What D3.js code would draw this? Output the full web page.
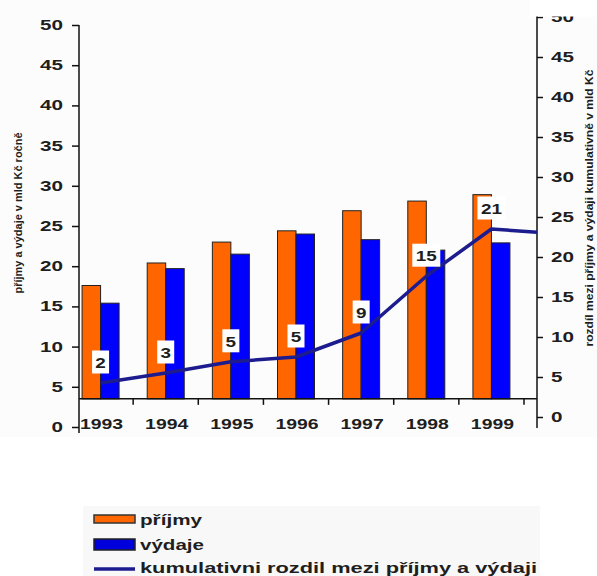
<!DOCTYPE html>
<html lang="cs">
<head>
<meta charset="utf-8">
<title>příjmy a výdaje</title>
<script src="https://d3js.org/d3.v7.min.js"></script>
<style>
  body { margin: 0; background: #fff; }
  text { font-family: "Liberation Sans", Arial, sans-serif; fill: #1e1e1e; }
</style>
</head>
<body>
<svg width="597" height="576"></svg>
<script>
    // data
    var years = ["1993", "1994", "1995", "1996", "1997", "1998", "1999"];
    var prijmy = [17.6, 20.4, 23.0, 24.4, 26.9, 28.1, 28.9];
    var vydaje = [15.4, 19.7, 21.5, 24.0, 23.3, 22.0, 22.9];
    // line drawn against the right axis
    var rozdil = [4.25, 5.5, 6.9, 7.5, 10.5, 17.6, 23.5];
    var rozdilEnd = 23.1; // where the line meets the right axis
    var rozdilLabels = ["2", "3", "5", "5", "9", "15", "21"];
    var leftTicks = [0, 5, 10, 15, 20, 25, 30, 35, 40, 45, 50];
    var rightTicks = [0, 5, 10, 15, 20, 25, 30, 35, 40, 45, 50];
    var baseValue = 3.5; // the category axis sits here on the left scale

    var orange = "#ff6600", blue = "#0000ff", navy = "#1c1c8e";

    var svg = d3.select("svg");

    // faint page tones
    svg.append("rect").attr("x", 0).attr("y", 0).attr("width", 597).attr("height", 437).attr("fill", "#fcfcfc");
    svg.append("rect").attr("x", 83).attr("y", 506).attr("width", 457).attr("height", 70).attr("fill", "#f8f8f8");

    var plotLeft = 79, plotRight = 537;

    var yLeft = d3.scaleLinear().domain([0, 50]).range([427, 25]);
    var yRight = d3.scaleLinear().domain([0, 50]).range([417, 17]);
    var x = d3.scaleBand().domain(years).range([68, 524]).padding(0);
    var barW = 18.5;
    var baseY = yLeft(baseValue);

    function stretch(sel, perChar) {
        sel.each(function() {
            var t = d3.select(this);
            t.attr("textLength", t.text().length * perChar).attr("lengthAdjust", "spacingAndGlyphs");
        });
    }

    // bars
    var g = svg.append("g");
    g.selectAll("rect.p").data(prijmy).enter().append("rect")
        .attr("class", "p")
        .attr("x", function(d, i) { return x(years[i]) + x.bandwidth() / 2 - barW; })
        .attr("y", function(d) { return yLeft(d); })
        .attr("width", barW)
        .attr("height", function(d) { return baseY - yLeft(d); })
        .attr("fill", orange).attr("stroke", "#222").attr("stroke-width", 1);
    g.selectAll("rect.v").data(vydaje).enter().append("rect")
        .attr("class", "v")
        .attr("x", function(d, i) { return x(years[i]) + x.bandwidth() / 2; })
        .attr("y", function(d) { return yLeft(d); })
        .attr("width", barW)
        .attr("height", function(d) { return baseY - yLeft(d); })
        .attr("fill", blue).attr("stroke", "#222").attr("stroke-width", 1);

    // category axis
    svg.append("line").attr("x1", plotLeft).attr("x2", plotRight)
        .attr("y1", baseY).attr("y2", baseY).attr("stroke", "#111").attr("stroke-width", 1.5);
    svg.selectAll("line.xt").data(years).enter().append("line")
        .attr("class", "xt")
        .attr("x1", function(d) { return x(d) + x.step(); })
        .attr("x2", function(d) { return x(d) + x.step(); })
        .attr("y1", baseY).attr("y2", baseY + 6)
        .attr("stroke", "#111").attr("stroke-width", 1.5);
    svg.selectAll("text.yr").data(years).enter().append("text")
        .attr("class", "yr")
        .attr("x", function(d) { return x(d) + x.bandwidth() / 2 + 1; })
        .attr("y", 429)
        .attr("text-anchor", "middle")
        .style("font-size", "15px").style("font-weight", "bold")
        .text(function(d) { return d; })
        .call(stretch, 10.8);

    // left axis
    var leftAxis = d3.axisLeft(yLeft).tickValues(leftTicks).tickSize(7).tickPadding(9);
    var ga = svg.append("g").attr("transform", "translate(" + plotLeft + ",0)").call(leftAxis);
    ga.select(".domain").remove();
    ga.selectAll("line").attr("stroke", "#111").attr("stroke-width", 1.5);
    ga.selectAll("text").style("font-size", "14px").style("font-weight", "bold").attr("fill", "#1e1e1e")
        .call(stretch, 11.5);
    svg.append("line").attr("x1", plotLeft).attr("x2", plotLeft).attr("y1", 25).attr("y2", 433)
        .attr("stroke", "#111").attr("stroke-width", 1.5);

    // right axis
    var rightAxis = d3.axisRight(yRight).tickValues(rightTicks).tickSize(6).tickPadding(8);
    var gb = svg.append("g").attr("transform", "translate(" + plotRight + ",0)").call(rightAxis);
    gb.select(".domain").remove();
    gb.selectAll("line").attr("stroke", "#111").attr("stroke-width", 1.5);
    gb.selectAll("text").style("font-size", "14px").style("font-weight", "bold").attr("fill", "#1e1e1e")
        .call(stretch, 11.5);
    svg.append("line").attr("x1", plotRight).attr("x2", plotRight).attr("y1", 16).attr("y2", 428)
        .attr("stroke", "#111").attr("stroke-width", 1.5);
    // top of the right column is blanked in the original
    svg.append("rect").attr("x", 530).attr("y", 0).attr("width", 67).attr("height", 16.5).attr("fill", "#fff");

    // cumulative line
    var pts = rozdil.map(function(d, i) { return [x(years[i]) + x.bandwidth() / 2, yRight(d)]; });
    pts.push([plotRight, yRight(rozdilEnd)]);
    svg.append("path")
        .attr("d", d3.line()(pts))
        .attr("fill", "none").attr("stroke", navy).attr("stroke-width", 3.5)
        .attr("stroke-linejoin", "round");

    // value boxes
    var lab = svg.selectAll("g.lab").data(rozdil).enter().append("g")
        .attr("class", "lab")
        .attr("transform", function(d, i) {
            return "translate(" + (x(years[i]) + x.bandwidth() / 2) + "," + (yRight(d) - 21) + ")";
        });
    lab.append("rect")
        .attr("x", function(d, i) { return -(rozdilLabels[i].length * 11 + 6) / 2; })
        .attr("y", -11.5)
        .attr("width", function(d, i) { return rozdilLabels[i].length * 11 + 6; })
        .attr("height", 23)
        .attr("fill", "#fff");
    lab.append("text")
        .attr("text-anchor", "middle")
        .attr("y", 6)
        .style("font-size", "15px").style("font-weight", "bold")
        .text(function(d, i) { return rozdilLabels[i]; })
        .call(stretch, 10.5);

    // axis titles
    svg.append("text")
        .attr("transform", "translate(22,213) rotate(-90)")
        .attr("text-anchor", "middle")
        .style("font-size", "10.5px").style("font-weight", "bold")
        .attr("textLength", 161).attr("lengthAdjust", "spacingAndGlyphs")
        .text("příjmy a výdaje v mld Kč ročně");
    svg.append("text")
        .attr("transform", "translate(593,208) rotate(-90)")
        .attr("text-anchor", "middle")
        .style("font-size", "10.5px").style("font-weight", "bold")
        .attr("textLength", 277).attr("lengthAdjust", "spacingAndGlyphs")
        .text("rozdíl mezi příjmy a výdaji kumulativně v mld Kč");

    // legend
    var legend = svg.append("g");
    legend.append("rect").attr("x", 94).attr("y", 515).attr("width", 41).attr("height", 8)
        .attr("fill", orange).attr("stroke", "#333").attr("stroke-width", 1.5);
    legend.append("rect").attr("x", 94).attr("y", 539).attr("width", 41).attr("height", 11)
        .attr("fill", "#0000dd").attr("stroke", "#222").attr("stroke-width", 1.5);
    legend.append("line").attr("x1", 94).attr("x2", 135).attr("y1", 569).attr("y2", 569)
        .attr("stroke", navy).attr("stroke-width", 3.5);
    var legendText = [["příjmy", 525, 62], ["výdaje", 550, 64], ["kumulativni rozdil mezi příjmy a výdaji", 573, 397]];
    legend.selectAll("text").data(legendText).enter().append("text")
        .attr("x", 140)
        .attr("y", function(d) { return d[1]; })
        .style("font-size", "14px").style("font-weight", "bold")
        .attr("textLength", function(d) { return d[2]; })
        .attr("lengthAdjust", "spacingAndGlyphs")
        .text(function(d) { return d[0]; });
</script>
</body>
</html>
